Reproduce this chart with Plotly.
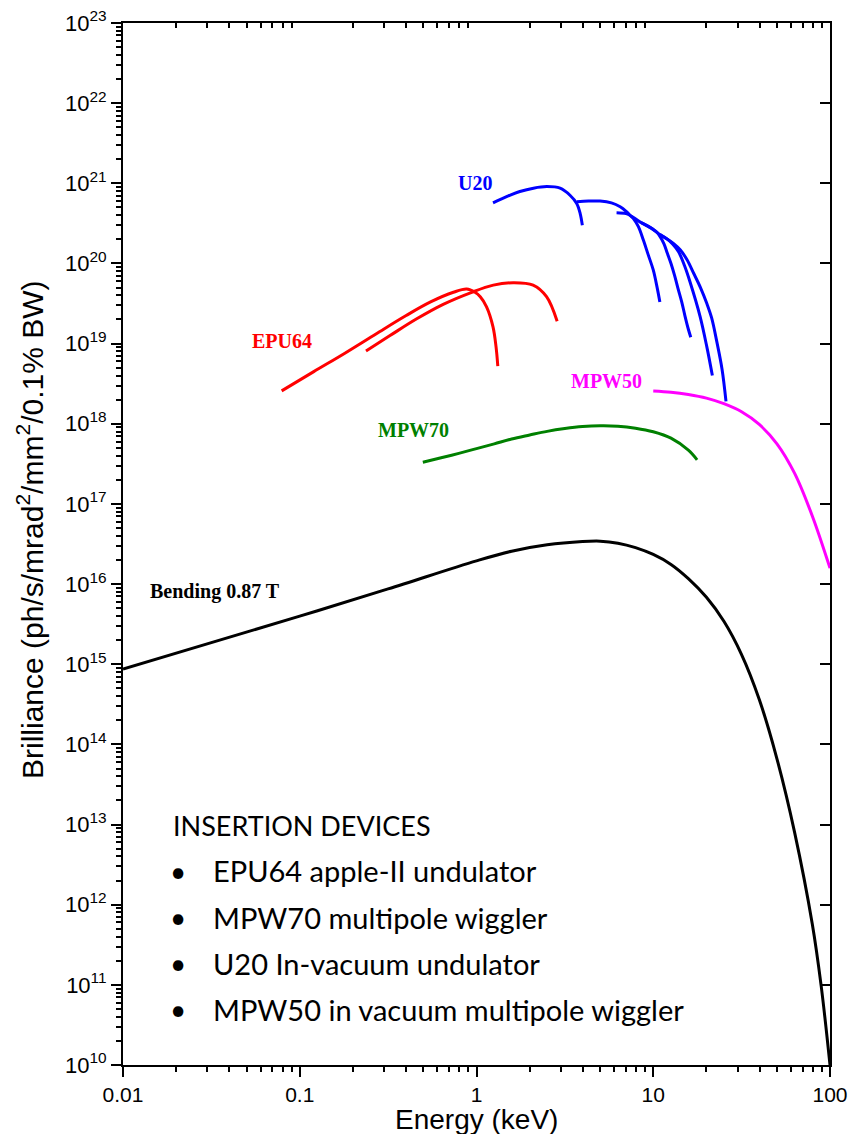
import plotly.graph_objects as go

# ---------------- data (energy in keV, brilliance) ----------------
bend_E = [0.01, 0.0316, 0.1, 0.316, 1.0, 1.58, 2.51, 3.98, 5.01, 6.31, 7.94, 10.0, 12.6, 15.8,
          20.0, 25.1, 31.6, 39.8, 50.1, 63.1, 79.4, 89.1, 100]
bend_B = [8.7e14, 1.86e15, 3.98e15, 8.7e15, 1.95e16, 2.57e16, 3.09e16, 3.39e16, 3.43e16, 3.24e16,
          2.85e16, 2.34e16, 1.76e16, 1.17e16, 6.84e15, 3.43e15, 1.32e15, 3.63e14, 6.61e13,
          7.94e12, 5.75e11, 9.77e10, 1.0e10]

mpw50_E = [10.0, 12.6, 15.8, 20.0, 25.1, 31.6, 39.8, 50.1, 63.1, 79.4, 100]
mpw50_B = [2.57e18, 2.48e18, 2.32e18, 2.09e18, 1.78e18, 1.41e18, 9.8e17, 5.62e17, 2.40e17, 7.08e16, 1.58e16]

mpw70_E = [0.497, 0.631, 0.794, 1.0, 1.26, 1.58, 2.0, 2.51, 3.16, 3.98, 5.01, 6.31, 7.94, 10.0,
           12.6, 15.8, 17.7]
mpw70_B = [3.31e17, 3.76e17, 4.27e17, 4.9e17, 5.62e17, 6.46e17, 7.24e17, 8.04e17, 8.71e17, 9.23e17,
           9.44e17, 9.33e17, 8.81e17, 7.94e17, 6.61e17, 4.68e17, 3.55e17]

epu64_a_E = [0.079, 0.12, 0.18, 0.27, 0.40, 0.55, 0.74, 0.88, 0.98, 1.05, 1.14, 1.24, 1.29, 1.32]
epu64_a_B = [2.57e18, 4.47e18, 7.6e18, 1.32e19, 2.24e19, 3.31e19, 4.37e19, 4.79e19, 4.37e19, 3.85e19,
             2.88e19, 1.62e19, 9.1e18, 5.25e18]

epu64_b_E = [0.237, 0.324, 0.459, 0.648, 0.94, 1.245, 1.61, 2.09, 2.49, 2.86]
epu64_b_B = [8.1e18, 1.26e19, 2.04e19, 3.09e19, 4.37e19, 5.37e19, 5.75e19, 5.37e19, 3.85e19, 1.9e19]

u20_h1_E = [1.24, 1.5, 1.76, 2.1, 2.5, 2.97, 3.38, 3.69, 3.86, 3.97]
u20_h1_B = [5.7e20, 6.9e20, 7.9e20, 8.7e20, 9.1e20, 8.7e20, 7.1e20, 5.6e20, 4.2e20, 3.0e20]

u20_h3_E = [3.69, 4.3, 5.0, 5.8, 6.5, 7.0, 7.38, 7.7, 8.24, 8.79, 9.38, 10.0, 10.5, 10.9]
u20_h3_B = [5.9e20, 6.0e20, 6.0e20, 5.7e20, 5.1e20, 4.5e20, 4.0e20, 3.66e20, 2.88e20, 1.96e20, 1.27e20,
            8.3e19, 5.1e19, 3.3e19]

u20_h5_E = [6.2, 7.0, 7.38, 8.4, 9.55, 10.0, 10.5, 10.96, 11.5, 12.0, 12.6, 13.2, 13.8, 14.5, 15.1,
            15.8, 16.3]
u20_h5_B = [4.3e20, 4.2e20, 4.0e20, 3.3e20, 2.82e20, 2.66e20, 2.45e20, 2.14e20, 1.76e20, 1.35e20,
            1.0e20, 7.1e19, 4.9e19, 3.3e19, 2.24e19, 1.51e19, 1.2e19]

u20_h7_E = [8.6, 9.6, 10.9, 11.9, 12.9, 13.9, 15.0, 16.1, 18.4, 20.1, 21.6]
u20_h7_B = [3.2e20, 2.82e20, 2.29e20, 2.04e20, 1.74e20, 1.4e20, 9.5e19, 6.0e19, 2.19e19, 9.1e18, 4.0e18]

u20_h9_E = [10.9, 11.9, 13.0, 14.2, 15.5, 16.9, 18.5, 20.1, 21.4, 22.9, 24.5, 25.8]
u20_h9_B = [2.29e20, 2.04e20, 1.78e20, 1.48e20, 1.12e20, 7.6e19, 5.0e19, 3.16e19, 2.09e19, 1.05e19,
            4.8e18, 1.9e18]

x_major = [0.01, 0.1, 1, 10, 100]
x_labels = ["0.01", "0.1", "1", "10", "100"]
y_exponents = list(range(10, 24))

legend_title = "INSERTION DEVICES"
legend_items = ["EPU64 apple-II undulator", "MPW70 multipole wiggler",
                "U20 In-vacuum undulator", "MPW50 in vacuum multipole wiggler"]

# ---------------- layout geometry ----------------
W, H = 849, 1134
L, R, T, B = 123, 830, 23, 1065
PW, PH = R - L, B - T


def px_x(x):
    return (x - L) / PW


def px_y(y):
    return (B - y) / PH


y_major = [10.0 ** e for e in y_exponents]
y_labels = ["10<sup>%d</sup>" % e for e in y_exponents]
x_minor = [m * 10.0 ** k for k in range(-2, 2) for m in range(2, 10)]
y_minor = [m * 10.0 ** k for k in range(10, 23) for m in range(2, 10)]

series = [
    (bend_E, bend_B, "black"),
    (mpw50_E, mpw50_B, "#ff00ff"),
    (mpw70_E, mpw70_B, "#008000"),
    (epu64_a_E, epu64_a_B, "#ff0000"),
    (epu64_b_E, epu64_b_B, "#ff0000"),
    (u20_h1_E, u20_h1_B, "#0000ff"),
    (u20_h3_E, u20_h3_B, "#0000ff"),
    (u20_h5_E, u20_h5_B, "#0000ff"),
    (u20_h7_E, u20_h7_B, "#0000ff"),
    (u20_h9_E, u20_h9_B, "#0000ff"),
]

fig = go.Figure()
for xs, ys, col in series:
    fig.add_trace(go.Scatter(x=xs, y=ys, mode="lines",
                             line=dict(color=col, width=3, shape="spline", smoothing=1.0),
                             showlegend=False, hoverinfo="skip"))

# invisible trace to activate the mirrored top/right axes
fig.add_trace(go.Scatter(x=[1], y=[1e15], xaxis="x2", yaxis="y2", mode="markers",
                         marker=dict(opacity=0), showlegend=False, hoverinfo="skip"))

tick_font = dict(family="Liberation Sans, Arial, sans-serif", size=21, color="black")

fig.update_layout(
    width=W, height=H,
    margin=dict(l=L, r=W - R, t=T, b=H - B, pad=0, autoexpand=False),
    paper_bgcolor="white", plot_bgcolor="white",
    showlegend=False,
    xaxis=dict(type="log", range=[-2, 2], showline=True, linewidth=2, linecolor="black",
               ticks="outside", ticklen=10, tickwidth=2, tickcolor="black",
               tickmode="array", tickvals=x_major, ticktext=x_labels, tickfont=tick_font,
               minor=dict(ticks="outside", ticklen=5, tickwidth=1.5, tickcolor="black",
                          tickmode="array", tickvals=x_minor),
               showgrid=False, zeroline=False, automargin=False),
    yaxis=dict(type="log", range=[10, 23], showline=True, linewidth=2, linecolor="black",
               ticks="outside", ticklen=10, tickwidth=2, tickcolor="black",
               tickmode="array", tickvals=y_major, ticktext=y_labels,
               tickfont=dict(family="Liberation Sans, Arial, sans-serif", size=22, color="black"),
               minor=dict(ticks="outside", ticklen=5, tickwidth=1.5, tickcolor="black",
                          tickmode="array", tickvals=y_minor),
               showgrid=False, zeroline=False, automargin=False),
    xaxis2=dict(type="log", range=[-2, 2], overlaying="x", side="top", anchor="y",
                showline=True, linewidth=2, linecolor="black",
                ticks="inside", ticklen=5, tickwidth=1.5, tickcolor="black",
                tickmode="array", tickvals=x_minor, showticklabels=False,
                showgrid=False, zeroline=False, automargin=False),
    yaxis2=dict(type="log", range=[10, 23], overlaying="y", side="right", anchor="x",
                showline=True, linewidth=2, linecolor="black",
                ticks="inside", ticklen=10, tickwidth=2, tickcolor="black",
                tickmode="array", tickvals=y_major, showticklabels=False,
                showgrid=False, zeroline=False, automargin=False),
)

ann = []
# axis titles
ann.append(dict(text="Energy (keV)", xref="paper", yref="paper", x=px_x(476), y=px_y(1119),
                xanchor="center", yanchor="middle", showarrow=False,
                font=dict(family="Liberation Sans, Arial, sans-serif", size=28, color="black")))
ann.append(dict(text="Brilliance (ph/s/mrad<sup>2</sup>/mm<sup>2</sup>/0.1% BW)",
                xref="paper", yref="paper", x=px_x(30), y=px_y(530), textangle=-90,
                xanchor="center", yanchor="middle", showarrow=False,
                font=dict(family="Liberation Sans, Arial, sans-serif", size=30, color="black")))

# curve labels (positions in log10 data units)
serif = "Liberation Serif, Times New Roman, serif"
labels = [
    ("U20", -0.01, 21.0, "#0000ff", "center"),
    ("EPU64", -1.10, 19.03, "#ff0000", "center"),
    ("MPW70", -0.359, 17.92, "#008000", "center"),
    ("MPW50", 0.738, 18.53, "#ff00ff", "center"),
    ("Bending 0.87 T", -1.859, 15.91, "black", "left"),
]
for txt, lx, ly, col, xa in labels:
    ann.append(dict(text="<b>%s</b>" % txt, x=lx, y=ly, xref="x", yref="y",
                    xanchor=xa, yanchor="middle", showarrow=False,
                    font=dict(family=serif, size=20, color=col)))

# insertion device text block
sans = "Lato, Carlito, Calibri, sans-serif"
ann.append(dict(text=legend_title, xref="paper", yref="paper", x=px_x(171), y=px_y(825),
                xanchor="left", yanchor="middle", showarrow=False,
                font=dict(family=sans, size=27, color="black")))
line_y = [871, 917, 963, 1009]
for item, yy in zip(legend_items, line_y):
    ann.append(dict(text="•", xref="paper", yref="paper", x=px_x(178), y=px_y(yy),
                    xanchor="center", yanchor="middle", showarrow=False,
                    font=dict(family=sans, size=28, color="black")))
    ann.append(dict(text=item, xref="paper", yref="paper", x=px_x(211), y=px_y(yy),
                    xanchor="left", yanchor="middle", showarrow=False,
                    font=dict(family=sans, size=29, color="black")))

fig.update_layout(annotations=ann)
fig.write_html("out.html")
